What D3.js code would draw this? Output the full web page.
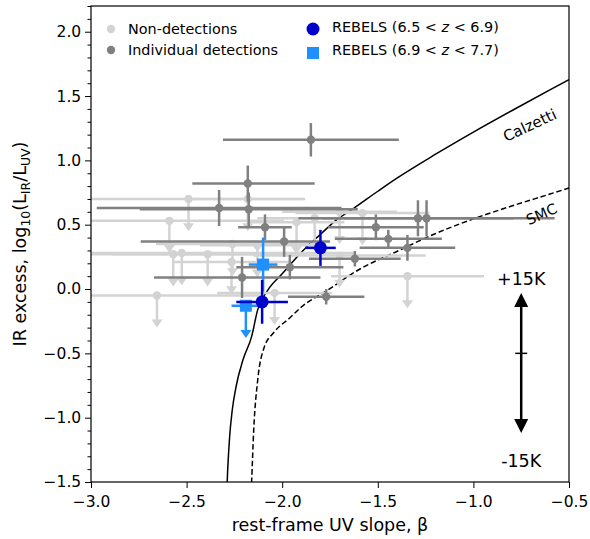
<!DOCTYPE html>
<html><head><meta charset="utf-8">
<script src="https://cdn.jsdelivr.net/npm/d3@7"></script>
<style>body{margin:0;background:#fff}svg{display:block;font-family:"DejaVu Sans",sans-serif}</style>
</head><body>
<svg id="c" width="590" height="539"></svg>
<script>
// ---- data ----
const xTicks = [-3.0,-2.5,-2.0,-1.5,-1.0,-0.5];
const yTicks = [-1.5,-1.0,-0.5,0.0,0.5,1.0,1.5,2.0];
// individual detections
const detBeta = [-1.85,-2.18,-2.33,-2.175,-2.09,-1.99,-1.96,-2.21,-1.51,-1.445,-1.345,-1.62,-1.77,-1.29,-1.245];
const detIRX = [1.16,0.82,0.63,0.62,0.48,0.37,0.17,0.09,0.48,0.39,0.32,0.235,-0.06,0.55,0.55];
const detBetaErrLo = [0.46,0.29,0.64,0.57,0.14,0.75,0.28,0.46,0.25,0.28,0.25,0.24,0.2,0.5,0.67];
const detBetaErrHi = [0.46,0.35,0.64,0.57,0.14,0.24,0.28,0.41,0.25,0.28,0.25,0.24,0.2,0.5,0.67];
const detIRXErr = [0.13,0.14,0.14,0.13,0.1,0.12,0.095,0.16,0.1,0.07,0.1,0.06,0.06,0.14,0.14];
// non-detections (upper limits)
const ndBeta = [-2.49,-2.59,-2.57,-2.525,-2.39,-2.655,-2.18,-1.83,-1.70,-1.58,-1.70,-1.345,-2.04,-2.265,-1.925,-2.26,-2.13];
const ndIRX = [0.70,0.53,0.27,0.28,0.27,-0.05,0.70,0.55,0.60,0.59,0.26,0.10,-0.03,0.21,0.52,0.35,0.34];
const ndBetaErr = [0.6,0.6,0.7,0.9,0.5,0.55,0.3,0.3,0.3,0.35,0.45,0.4,0.3,0.3,0.25,0.4,0.3];
const limitLen = 0.25;
// REBELS 6.5<z<6.9
const r1Beta = [-1.80,-2.105];
const r1IRX = [0.32,-0.10];
const r1BetaErr = [0.08,0.135];
const r1IRXErr = [0.14,0.17];
// REBELS 6.9<z<7.7
const r2Beta = [-2.10,-2.19];
const r2IRX = [0.19,-0.13];
const r2BetaErr = [0.075,0.075];
const r2IRXErr = [0.21,0];
const r2Upper = [false,true];
// dust-law curves
const calzBeta = [-2.293,-2.285,-2.275,-2.262,-2.24,-2.205,-2.16,-2.128,-2.076,-2.0,-1.9,-1.8,-1.716,-1.633,-1.5,-1.4,-1.2,-1.0,-0.8,-0.6,-0.5];
const calzIRX = [-1.70,-1.40,-1.15,-0.95,-0.75,-0.55,-0.37,-0.16,-0.01,0.118,0.285,0.425,0.538,0.620,0.76,0.862,1.046,1.220,1.386,1.548,1.628];
const smcBeta = [-2.166,-2.160,-2.149,-2.128,-2.095,-2.045,-1.961,-1.9,-1.768,-1.6,-1.403,-1.2,-1.074,-0.8,-0.6,-0.5];
const smcIRX = [-1.70,-1.50,-1.095,-0.706,-0.457,-0.34,-0.225,-0.14,-0.015,0.150,0.290,0.430,0.505,0.645,0.738,0.785];
// temperature arrow
const tArrowX = -0.75, tArrowTop = -0.03, tArrowMid = -0.5, tArrowBot = -1.12;

// ---- drawing ----
const svg = d3.select("#c");
const L=91,R=569,T=6,B=482;
const x = d3.scaleLinear([-3,-0.5],[L,R]);
const y = d3.scaleLinear([-1.5,2.2],[B,T]);
const lightC="#d3d3d3", grayC="#808080", blue1="#0000cd", blue2="#1e90ff";

svg.append("clipPath").attr("id","clip").append("rect").attr("x",L).attr("y",T).attr("width",R-L).attr("height",B-T);
const g = svg.append("g").attr("clip-path","url(#clip)");

const line = d3.line().x(d=>x(d[0])).y(d=>y(d[1])).curve(d3.curveMonotoneX);
g.append("path").attr("d",line(d3.zip(calzBeta,calzIRX))).attr("fill","none").attr("stroke","#000").attr("stroke-width",1.5);
g.append("path").attr("d",line(d3.zip(smcBeta,smcIRX))).attr("fill","none").attr("stroke","#000").attr("stroke-width",1.5).attr("stroke-dasharray","5.5,2.8");

// non-detections
ndBeta.forEach((b,i)=>{
  const v=ndIRX[i];
  g.append("line").attr("x1",x(b-ndBetaErr[i])).attr("x2",x(b+ndBetaErr[i])).attr("y1",y(v)).attr("y2",y(v)).attr("stroke",lightC).attr("stroke-width",2.5);
  const yt=y(v-limitLen);
  g.append("line").attr("x1",x(b)).attr("x2",x(b)).attr("y1",y(v)).attr("y2",yt-6).attr("stroke",lightC).attr("stroke-width",2.5);
  g.append("path").attr("d",`M${x(b)-5.5},${yt-8}L${x(b)+5.5},${yt-8}L${x(b)},${yt}Z`).attr("fill",lightC);
  g.append("circle").attr("cx",x(b)).attr("cy",y(v)).attr("r",4.2).attr("fill",lightC);
});
// detections
detBeta.forEach((b,i)=>{
  const v=detIRX[i];
  g.append("line").attr("x1",x(b-detBetaErrLo[i])).attr("x2",x(b+detBetaErrHi[i])).attr("y1",y(v)).attr("y2",y(v)).attr("stroke",grayC).attr("stroke-width",2.5);
  g.append("line").attr("x1",x(b)).attr("x2",x(b)).attr("y1",y(v-detIRXErr[i])).attr("y2",y(v+detIRXErr[i])).attr("stroke",grayC).attr("stroke-width",2.5);
  g.append("circle").attr("cx",x(b)).attr("cy",y(v)).attr("r",4.2).attr("fill",grayC);
});
// REBELS squares
r2Beta.forEach((b,i)=>{
  const v=r2IRX[i];
  g.append("line").attr("x1",x(b-r2BetaErr[i])).attr("x2",x(b+r2BetaErr[i])).attr("y1",y(v)).attr("y2",y(v)).attr("stroke",blue2).attr("stroke-width",2.5);
  if(r2Upper[i]){
    const yt=y(v-limitLen);
    g.append("line").attr("x1",x(b)).attr("x2",x(b)).attr("y1",y(v)).attr("y2",yt-6).attr("stroke",blue2).attr("stroke-width",2.5);
    g.append("path").attr("d",`M${x(b)-5.5},${yt-8}L${x(b)+5.5},${yt-8}L${x(b)},${yt}Z`).attr("fill",blue2);
  } else {
    g.append("line").attr("x1",x(b)).attr("x2",x(b)).attr("y1",y(v-r2IRXErr[i])).attr("y2",y(v+r2IRXErr[i])).attr("stroke",blue2).attr("stroke-width",2.5);
  }
  g.append("rect").attr("x",x(b)-6).attr("y",y(v)-6).attr("width",12).attr("height",12).attr("fill",blue2);
});
// REBELS circles
r1Beta.forEach((b,i)=>{
  const v=r1IRX[i];
  g.append("line").attr("x1",x(b-r1BetaErr[i])).attr("x2",x(b+r1BetaErr[i])).attr("y1",y(v)).attr("y2",y(v)).attr("stroke",blue1).attr("stroke-width",2.5);
  g.append("line").attr("x1",x(b)).attr("x2",x(b)).attr("y1",y(v-r1IRXErr[i])).attr("y2",y(v+r1IRXErr[i])).attr("stroke",blue1).attr("stroke-width",2.5);
  g.append("circle").attr("cx",x(b)).attr("cy",y(v)).attr("r",6.5).attr("fill",blue1);
});

// temperature arrow
const ax=x(tArrowX);
svg.append("line").attr("x1",ax).attr("x2",ax).attr("y1",y(tArrowTop)+12).attr("y2",y(tArrowBot)-12).attr("stroke","#000").attr("stroke-width",2.5);
svg.append("path").attr("d",`M${ax},${y(tArrowTop)}L${ax-7},${y(tArrowTop)+14}L${ax+7},${y(tArrowTop)+14}Z`).attr("fill","#000");
svg.append("path").attr("d",`M${ax},${y(tArrowBot)}L${ax-7},${y(tArrowBot)-14}L${ax+7},${y(tArrowBot)-14}Z`).attr("fill","#000");
svg.append("line").attr("x1",ax-6).attr("x2",ax+6).attr("y1",y(tArrowMid)).attr("y2",y(tArrowMid)).attr("stroke","#000").attr("stroke-width",1.5);
svg.append("text").attr("x",ax).attr("y",y(tArrowTop)-8).attr("text-anchor","middle").attr("font-size",17.5).text("+15K");
svg.append("text").attr("x",ax).attr("y",y(tArrowBot)+34).attr("text-anchor","middle").attr("font-size",17.5).text("-15K");

// curve labels
svg.append("text").attr("transform","translate(530,126) rotate(-25)").attr("text-anchor","middle").attr("dominant-baseline","middle").attr("font-size",15).text("Calzetti");
svg.append("text").attr("transform","translate(542,215) rotate(-24)").attr("text-anchor","middle").attr("dominant-baseline","middle").attr("font-size",14.5).text("SMC");

// axes
const fmt = d=> d3.format(".1f")(d).replace("-","\u2212");
const xa = svg.append("g").attr("transform",`translate(0,${B})`).call(d3.axisBottom(x).tickValues(xTicks).tickFormat(fmt).tickSize(6).tickSizeOuter(0));
const ya = svg.append("g").attr("transform",`translate(${L},0)`).call(d3.axisLeft(y).tickValues(yTicks).tickFormat(fmt).tickSize(6).tickSizeOuter(0));
const minor = d3.range(-15,23).map(k=>k/10).filter(v=>!yTicks.some(t=>Math.abs(t-v)<1e-6));
svg.append("g").attr("transform",`translate(${L},0)`).call(d3.axisLeft(y).tickValues(minor).tickFormat("").tickSize(3.5).tickSizeOuter(0)).select(".domain").remove();
[xa,ya].forEach(a=>{a.selectAll("text").attr("font-size",15.5).attr("font-family","DejaVu Sans").attr("fill","#000");a.selectAll("line").attr("stroke","#000").attr("stroke-width",1);a.select(".domain").remove();});
xa.selectAll("text").attr("dy","1.0em");
ya.selectAll("text").attr("dx","-0.05em");
svg.append("rect").attr("x",L).attr("y",T).attr("width",R-L).attr("height",B-T).attr("fill","none").attr("stroke","#000").attr("stroke-width",1.2);

svg.append("text").attr("x",(L+R)/2).attr("y",531).attr("text-anchor","middle").attr("font-size",17.5).text("rest-frame UV slope, β");
const yl = svg.append("text").attr("transform",`translate(26,${(T+B)/2}) rotate(-90)`).attr("text-anchor","middle").attr("font-size",17.5);
yl.append("tspan").text("IR excess, log");
yl.append("tspan").attr("font-size",12.5).attr("dy",4).text("10");
yl.append("tspan").attr("dy",-4).text("(L");
yl.append("tspan").attr("font-size",12.5).attr("dy",4).text("IR");
yl.append("tspan").attr("dy",-4).text("/L");
yl.append("tspan").attr("font-size",12.5).attr("dy",4).text("UV");
yl.append("tspan").attr("dy",-4).text(")");

// legend
const leg = svg.append("g").attr("font-size",14.4);
leg.append("circle").attr("cx",111).attr("cy",29).attr("r",4.2).attr("fill",lightC);
leg.append("text").attr("x",128).attr("y",29).attr("dominant-baseline","central").text("Non-detections");
leg.append("circle").attr("cx",111).attr("cy",50).attr("r",4.2).attr("fill",grayC);
leg.append("text").attr("x",128).attr("y",50).attr("dominant-baseline","central").text("Individual detections");
leg.append("circle").attr("cx",313).attr("cy",29).attr("r",6.5).attr("fill",blue1);
const t1=leg.append("text").attr("x",332).attr("y",27).attr("dominant-baseline","central");
t1.append("tspan").text("REBELS (6.5 < ");t1.append("tspan").attr("font-style","italic").text("z");t1.append("tspan").text(" < 6.9)");
leg.append("rect").attr("x",307).attr("y",47).attr("width",12).attr("height",12).attr("fill",blue2);
const t2=leg.append("text").attr("x",332).attr("y",50).attr("dominant-baseline","central");
t2.append("tspan").text("REBELS (6.9 < ");t2.append("tspan").attr("font-style","italic").text("z");t2.append("tspan").text(" < 7.7)");
</script>
</body></html>
